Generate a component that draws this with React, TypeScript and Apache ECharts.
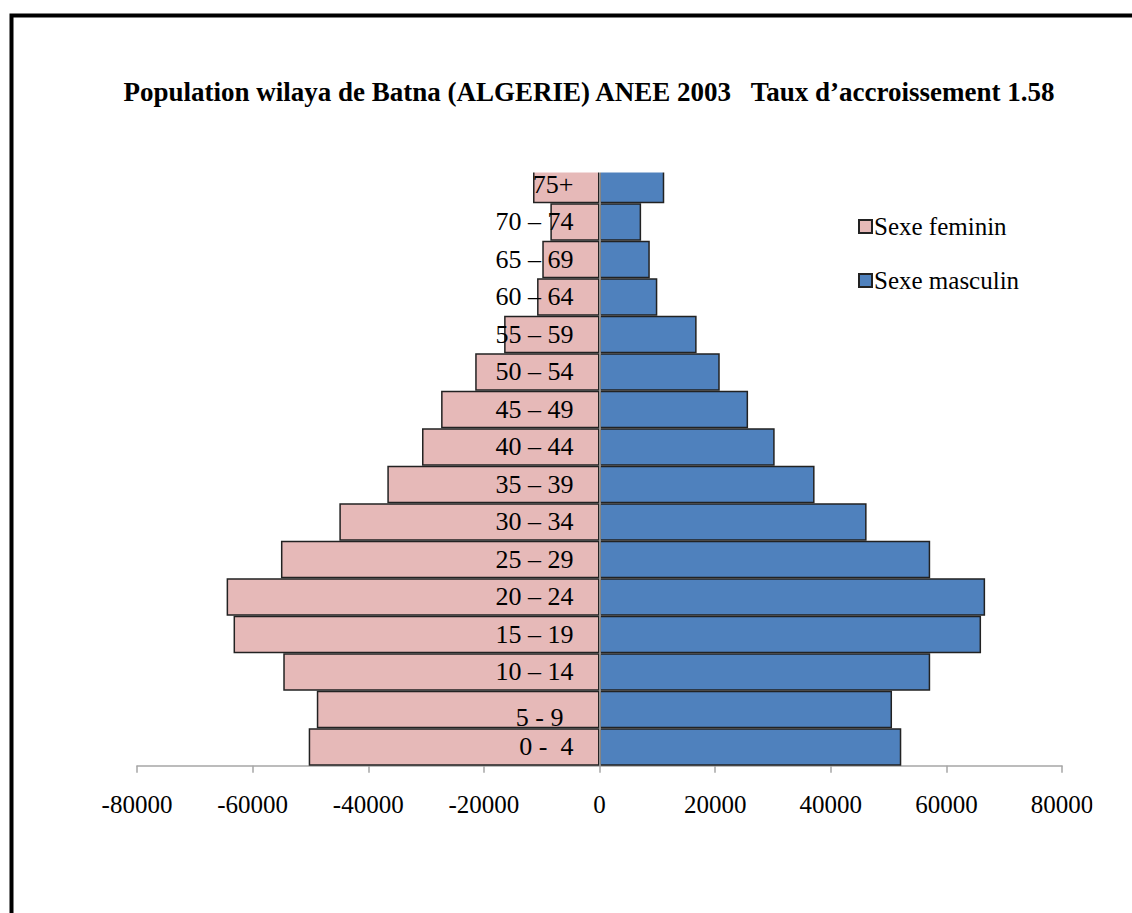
import React, { useEffect, useRef } from "react";
import * as echarts from "echarts";

const titleText =
  "Population wilaya de Batna (ALGERIE) ANEE 2003   Taux d\u2019accroissement 1.58";

const ageGroups = [
  "0 -  4",
  "5 - 9",
  "10 \u2013 14",
  "15 \u2013 19",
  "20 \u2013 24",
  "25 \u2013 29",
  "30 \u2013 34",
  "35 \u2013 39",
  "40 \u2013 44",
  "45 \u2013 49",
  "50 \u2013 54",
  "55 \u2013 59",
  "60 \u2013 64",
  "65 \u2013 69",
  "70 \u2013 74",
  "75+",
];

const seriesNames = ["Sexe feminin", "Sexe masculin"];

const female = [
  -50300, -48900, -54700, -63300, -64500, -55100, -45000, -36700, -30700,
  -27400, -21500, -16500, -10800, -9900, -8500, -11500,
];

const male = [
  52200, 50600, 57200, 66000, 66700, 57200, 46200, 37200, 30300, 25700, 20800,
  16800, 10000, 8700, 7200, 11200,
];

const xMin = -80000;
const xMax = 80000;
const xStep = 20000;

const SERIF = "'Liberation Serif', 'Times New Roman', serif";

export default function App() {
  const ref = useRef<HTMLDivElement>(null);

  useEffect(() => {
    if (!ref.current) return;
    const chart = echarts.init(ref.current, null, { renderer: "svg" });
    const gridLeft = 137;
    const gridWidth = 1132 - 137 - 70;
    const zeroOffset = -gridWidth / 2;
    chart.setOption({
      animation: false,
      backgroundColor: "#ffffff",
      title: {
        text: titleText,
        left: 584,
        textAlign: "center",
        top: 73,
        textStyle: {
          fontFamily: SERIF,
          fontWeight: "bold",
          fontSize: 27,
          color: "#000000",
        },
      },
      legend: {
        orient: "vertical",
        left: 853,
        top: 209,
        itemWidth: 13,
        itemHeight: 13,
        itemGap: 29,
        icon: "rect",
        textStyle: {
          fontFamily: SERIF,
          fontSize: 25,
          color: "#000000",
          padding: [0, 0, 0, -3],
        },
        data: seriesNames,
      },
      grid: {
        left: gridLeft,
        width: gridWidth,
        top: 165.7,
        height: 600,
        containLabel: false,
      },
      xAxis: {
        type: "value",
        min: xMin,
        max: xMax,
        interval: xStep,
        axisLine: { show: true, lineStyle: { color: "#a6a6a6", width: 1.5 } },
        axisTick: {
          show: true,
          length: 7,
          lineStyle: { color: "#a6a6a6", width: 1.5 },
        },
        splitLine: { show: false },
        axisLabel: {
          margin: 26,
          fontFamily: SERIF,
          fontSize: 25,
          color: "#000000",
          formatter: (v: number) => String(v),
        },
      },
      yAxis: {
        type: "category",
        data: ageGroups,
        position: "left",
        offset: zeroOffset,
        z: 10,
        axisLine: {
          show: true,
          onZero: false,
          lineStyle: { color: "#a6a6a6", width: 1.5 },
        },
        axisTick: { show: false },
        axisLabel: {
          margin: 26,
          fontFamily: SERIF,
          fontSize: 26,
          color: "#000000",
          formatter: (v: string) =>
            v === "5 - 9" ? "{low|" + v + "}" : v,
          rich: {
            low: {
              fontFamily: SERIF,
              fontSize: 26,
              color: "#000000",
              padding: [16, 10, 0, 0],
            },
          },
        },
      },
      series: [
        {
          name: seriesNames[0],
          type: "bar",
          data: female,
          barGap: "-100%",
          barCategoryGap: "0%",
          itemStyle: {
            color: "#E6B9B8",
            borderColor: "#222222",
            borderWidth: 1.5,
          },
        },
        {
          name: seriesNames[1],
          type: "bar",
          data: male,
          barGap: "-100%",
          barCategoryGap: "0%",
          itemStyle: {
            color: "#4F81BD",
            borderColor: "#222222",
            borderWidth: 1.5,
          },
        },
      ],
      graphic: [
        {
          type: "rect",
          z: 100,
          shape: { x: 20, y: 140, width: 1112, height: 32.5 },
          style: { fill: "#ffffff" },
        },
        {
          type: "rect",
          z: 100,
          shape: { x: 1092.5, y: 780, width: 40, height: 50 },
          style: { fill: "#ffffff" },
        },
        {
          type: "rect",
          z: 101,
          shape: { x: 11.5, y: 15.5, width: 1300, height: 1100 },
          style: { fill: "none", stroke: "#000000", lineWidth: 4 },
        },
      ],
    });
    return () => chart.dispose();
  }, []);

  return (
    <div
      ref={ref}
      style={{
        position: "fixed",
        left: 0,
        top: 0,
        width: 1132,
        height: 913,
        background: "#ffffff",
      }}
    />
  );
}
